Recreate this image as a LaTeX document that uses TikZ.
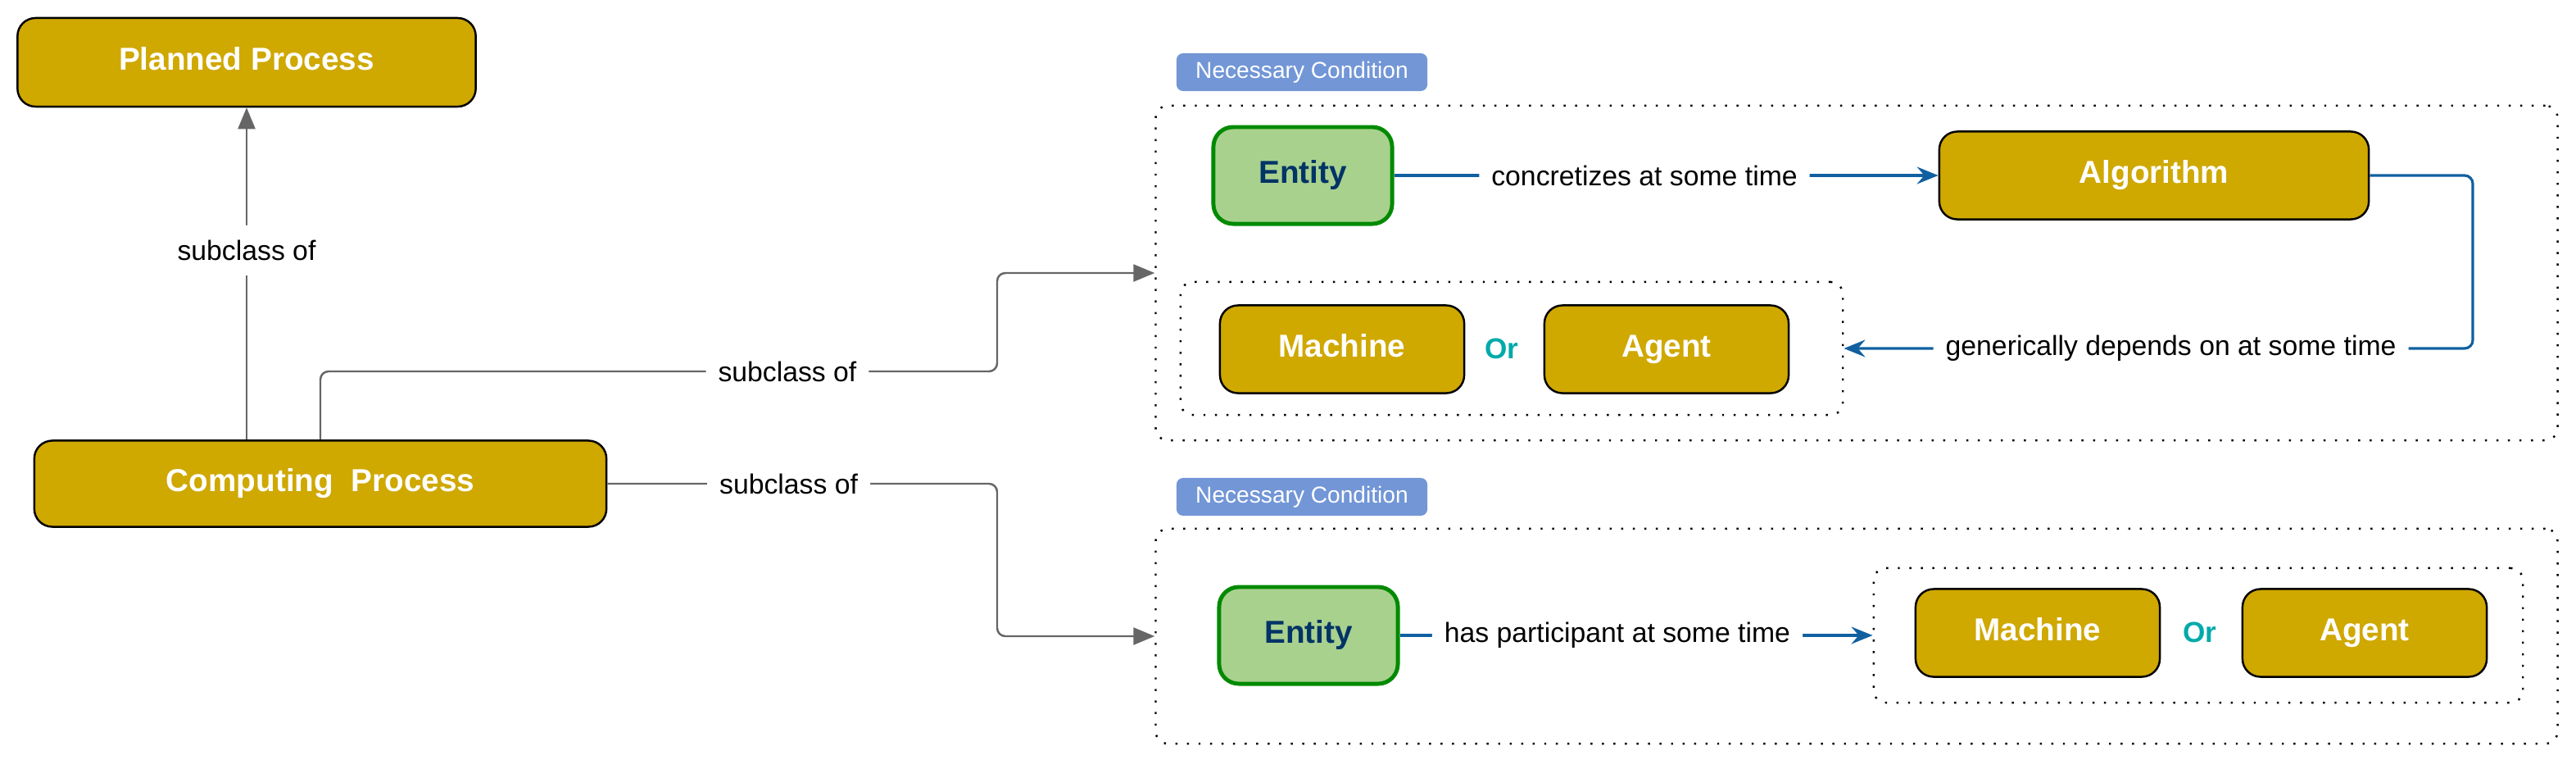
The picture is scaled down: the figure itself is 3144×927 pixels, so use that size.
\documentclass[tikz,border=0pt]{standalone}
\usepackage{fontspec}
\setmainfont{Liberation Sans}
\usepackage{tikz}
\usetikzlibrary{arrows.meta}
\usepackage{xcolor}

\definecolor{goldfill}{RGB}{207,168,0}
\definecolor{entfill}{RGB}{169,209,142}
\definecolor{entline}{RGB}{0,138,0}
\definecolor{enttext}{RGB}{0,51,102}
\definecolor{tagfill}{RGB}{114,150,214}
\definecolor{orcol}{RGB}{0,170,170}
\definecolor{greyline}{RGB}{102,102,102}
\definecolor{blueline}{RGB}{16,96,160}

\begin{document}
\begin{tikzpicture}[x=0.01cm,y=-0.01cm,
  gold/.style={draw=black, line width=0.7pt, fill=goldfill, rounded corners=2.2mm,
    text=white, font=\fontsize{11}{13}\selectfont\bfseries, inner sep=0pt,
    text height=0.72em, text depth=0.2em,
    minimum width=2.98cm, minimum height=1.07cm},
  ent/.style={draw=entline, line width=1.4pt, fill=entfill, rounded corners=2.4mm,
    text=enttext, font=\fontsize{11}{13}\selectfont\bfseries, inner sep=0pt,
    text height=0.72em, text depth=0.2em,
    minimum width=2.18cm, minimum height=1.18cm},
  tagbox/.style={fill=tagfill, rounded corners=0.8mm, text=white,
    font=\fontsize{8}{10}\selectfont, inner sep=0pt,
    minimum width=3.06cm, minimum height=0.46cm},
  grpbox/.style={draw, line width=0.7pt, dash pattern=on 0.7pt off 3.3pt,
    rounded corners=1.5mm, inner sep=0pt},
  ortext/.style={text=orcol, font=\fontsize{10}{12}\selectfont\bfseries},
  lbl/.style={fill=white, font=\fontsize{9.6}{11}\selectfont,
    inner xsep=1.5mm, inner ysep=1.8mm},
  subarr/.style={draw=greyline, line width=0.7pt,
    -{Triangle[length=2.6mm,width=2.1mm]}, rounded corners=1mm},
  relarr/.style={draw=blueline, line width=0.9pt,
    -{Stealth[length=2.6mm,width=2.1mm,inset=0.9mm]}, rounded corners=1mm}]
\useasboundingbox (0,0) rectangle (3144,927);

\node[gold, minimum width=5.59cm, minimum height=1.08cm] (plan) at (301,76) {Planned Process};
\node[gold, minimum width=6.98cm, minimum height=1.05cm] (comp) at (391,590) {Computing~~Process};

\node[tagbox] (cond1) at (1589,88) {Necessary Condition};
\node[grpbox, minimum width=17.1cm, minimum height=4.08cm] (grp1) at (2266,333) {};
\node[ent] (ent1) at (1590,214) {Entity};
\node[gold, minimum width=5.24cm] (alg) at (2629,214) {Algorithm};
\node[grpbox, minimum width=8.08cm, minimum height=1.62cm] (alt1) at (1845,425) {};
\node[gold] (mach1) at (1638,426) {Machine};
\node[ortext] (or1) at (1833,425) {Or};
\node[gold] (agt1) at (2034,426) {Agent};

\node[tagbox] (cond2) at (1589,606) {Necessary Condition};
\node[grpbox, minimum width=17.1cm, minimum height=2.62cm] (grp2) at (2266,776) {};
\node[ent] (ent2) at (1597,775) {Entity};
\node[grpbox, minimum width=7.92cm, minimum height=1.64cm] (alt2) at (2683,775) {};
\node[gold] (mach2) at (2487,772) {Machine};
\node[ortext] (or2) at (2685,771) {Or};
\node[gold] (agt2) at (2886,772) {Agent};

\coordinate (k1) at (1217,453);
\coordinate (k2) at (1217,776);
\coordinate (k3) at (3018,425);

\draw[subarr] (comp.north -| plan.south) -- node[lbl,pos=0.57] {subclass of} (plan.south);
\draw[subarr] (comp.north) |- node[lbl,pos=0.845] {subclass of} (k1) |- (grp1.west);
\draw[subarr] (comp.east) -| node[lbl,pos=0.2325] {subclass of} (k2) -- (grp2.west);

\draw[relarr] (ent1.east) -- node[lbl,pos=0.46] {concretizes at some time} (alg.west);
\draw[relarr] (alg.east) -| (k3) -- node[lbl,pos=0.48] {generically depends on at some time} (alt1.east);
\draw[relarr] (ent2.east) -- node[lbl,pos=0.46] {has participant at some time} (alt2.west);
\end{tikzpicture}
\end{document}
